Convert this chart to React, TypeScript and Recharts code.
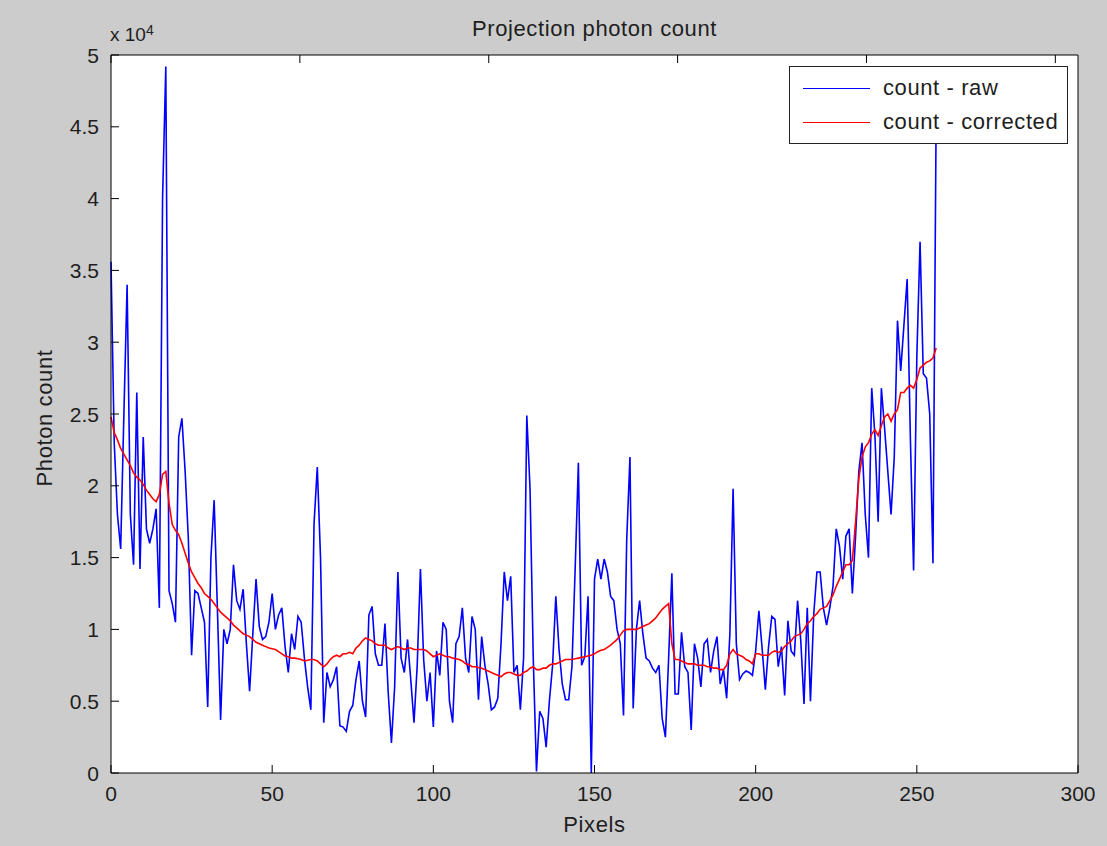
import { LineChart, Line, XAxis, YAxis, CartesianGrid, Legend } from "recharts";

// Detector pixel index 0..256
const pixels: number[] = Array.from({ length: 257 }, (_, i) => i);

const countRaw: number[] = [
  35600, 23000, 18000, 15600, 25000, 34000, 18000, 14500, 26500, 14200,
  23400, 17000, 16000, 17000, 18400, 11500, 40000, 49200, 12700, 11800,
  10500, 23400, 24700, 21000, 16300, 8200, 12700, 12500, 11500, 10500,
  4600, 15000, 19000, 11500, 3700, 10000, 9000, 10000, 14500, 12000,
  11400, 12800, 9000, 5700, 9700, 13500, 10200, 9300, 9500, 10500,
  12500, 10000, 11000, 11500, 8800, 7000, 9700, 8600, 10900, 10500,
  8000, 6000, 4400, 17400, 21300, 15000, 3500, 7000, 6000, 6500,
  7400, 3300, 3200, 2900, 4300, 4700, 6500, 7800, 5000, 3900,
  11000, 11600, 8300, 7500, 7500, 10400, 5600, 2100, 6000, 14000,
  8000, 7000, 9300, 6500, 3500, 7500, 14200, 7900, 5000, 7000,
  3200, 8500, 6800, 10500, 10000, 5000, 3500, 9000, 9500, 11500,
  8000, 7000, 10900, 10000, 5100, 9500, 7500, 6200, 4400, 4600,
  5200, 9000, 14000, 12000, 13700, 7000, 7500, 4400, 8000, 24900,
  19800, 8000, 100, 4300, 3800, 1800, 5000, 7500, 12300, 8600,
  6200, 5100, 5100, 7400, 14200, 21600, 7500, 8100, 12300, 0,
  13500, 14900, 13500, 14900, 14000, 12300, 12000, 10000, 9000, 4000,
  16300, 22000, 4500, 10000, 12000, 9700, 8000, 7800, 7300, 7000,
  7500, 3800, 2500, 8000, 13900, 5500, 5500, 9800, 7400, 7000,
  3000, 9000, 8000, 6000, 9000, 9300, 7000, 8500, 9500, 6200,
  7200, 5200, 9700, 19800, 9000, 6500, 6900, 7100, 7000, 6800,
  8500, 11300, 8700, 5800, 8800, 10900, 10700, 7400, 8800, 5400,
  10600, 8500, 8200, 12000, 9200, 4800, 11500, 5000, 11000, 14000,
  14000, 11500, 10300, 11500, 13000, 17000, 15800, 13500, 16500, 17000,
  12500, 16500, 21000, 23000, 18000, 15000, 26800, 23500, 17500, 26800,
  24000, 21000, 18000, 22000, 31500, 28000, 31200, 34400, 23300, 14100,
  29000, 37000, 27800, 27500, 25000, 14600, 46000,
];

const countCorrected: number[] = [
  24800, 23700, 23200, 22600, 22200, 21800, 21400, 20900, 20600, 20400,
  20100, 19700, 19400, 19100, 18900, 19400, 20800, 21000, 18800, 17300,
  16900, 16600, 16000, 15300, 14600, 14000, 13600, 13200, 12900, 12500,
  12300, 12100, 11800, 11500, 11200, 11000, 10800, 10600, 10300, 10100,
  9900, 9700, 9600, 9500, 9300, 9100, 9000, 8900, 8800, 8700,
  8650, 8600, 8450, 8300, 8150, 8100, 8000, 8000, 7950, 7900,
  7800, 7850, 7900, 7900, 7800, 7600, 7400, 7600, 7900, 8100,
  8200, 8100, 8300, 8300, 8400, 8300, 8700, 8900, 9200, 9400,
  9300, 9200, 9000, 8900, 8900, 8900, 8700, 8600, 8700, 8800,
  8700, 8600, 8700, 8700, 8600, 8600, 8600, 8600, 8500, 8300,
  8100, 8200, 8300, 8200, 8100, 8100, 8000, 7950, 7900, 7800,
  7600, 7550, 7400, 7400, 7350, 7300, 7200, 7100, 7000, 6900,
  6800, 6700, 6900, 7000, 7000, 6900, 6800, 6800, 7000, 7100,
  7300, 7400, 7200, 7200, 7300, 7300, 7500, 7600, 7600, 7700,
  7800, 7900, 7900, 7900, 7950, 8000, 8050, 8100, 8150, 8200,
  8300, 8450, 8550, 8600, 8750, 8900, 9100, 9300, 9600, 9900,
  10000, 10000, 10000, 10000, 10100, 10200, 10300, 10400, 10600, 10800,
  11100, 11400, 11600, 11800, 9000, 7900, 7900, 7800, 7700, 7600,
  7600, 7600, 7500, 7500, 7500, 7400, 7400, 7300, 7300, 7200,
  7200, 7500, 8300, 8600, 8300, 8200, 8100, 7900, 7800, 7600,
  8300, 8300, 8200, 8200, 8200, 8400, 8500, 8400, 8500, 8800,
  9000, 9200, 9500, 9600, 9700, 10000, 10400, 10600, 10900, 11100,
  11400, 11500, 11600, 12000, 12400, 13000, 13500, 14000, 14500, 14500,
  14800, 17500, 20500, 22000, 22700, 23000, 23600, 23900, 23500, 24200,
  24800, 25000, 24500, 25000, 25300, 26500, 26500, 26800, 27000, 26800,
  27400, 28200, 28400, 28600, 28700, 28900, 29600,
];

const seriesNames: string[] = ["count - raw", "count - corrected"];
const xTicks: number[] = [0, 50, 100, 150, 200, 250, 300];
const yTicks: number[] = [0, 5000, 10000, 15000, 20000, 25000, 30000, 35000, 40000, 45000, 50000];

const data = pixels.map((x, i) => ({
  x,
  raw: countRaw[i],
  corrected: countCorrected[i],
}));

const FONT = "'Liberation Sans', Arial, sans-serif";
const TEXT = "#1e1e1e";
const TICK_LEN = 8;
const LABEL_GAP = 12;

// MATLAB-style ticks: short marks pointing into the plot box
const BottomTick = ({ x, y, payload }: any) => (
  <g>
    <line x1={x} x2={x} y1={y - LABEL_GAP} y2={y - LABEL_GAP - TICK_LEN} stroke="#000" />
    <text x={x} y={y} dy="0.75em" textAnchor="middle" fill={TEXT} fontSize={21} fontFamily={FONT}>
      {payload.value}
    </text>
  </g>
);

const LeftTick = ({ x, y, payload }: any) => (
  <g>
    <line x1={x + LABEL_GAP} x2={x + LABEL_GAP + TICK_LEN} y1={y} y2={y} stroke="#000" />
    <text x={x} y={y} dy="0.36em" textAnchor="end" fill={TEXT} fontSize={21} fontFamily={FONT}>
      {String(payload.value / 10000)}
    </text>
  </g>
);

const TopTick = ({ x, y }: any) => (
  <line x1={x} x2={x} y1={y} y2={y + TICK_LEN} stroke="#000" />
);

const RightTick = ({ x, y }: any) => (
  <line x1={x} x2={x - TICK_LEN} y1={y} y2={y} stroke="#000" />
);

const renderLegend = ({ payload }: any) => {
  const items = [...(payload || [])].sort(
    (a: any, b: any) => seriesNames.indexOf(a.value) - seriesNames.indexOf(b.value)
  );
  return (
    <div
      style={{
        boxSizing: "border-box",
        width: 279,
        height: 78,
        border: "1px solid #222",
        background: "#fff",
        fontFamily: FONT,
        fontSize: 22,
        letterSpacing: 0.6,
        color: TEXT,
        paddingTop: 4,
      }}
    >
      {items.map((entry: any) => (
        <div key={entry.value} style={{ display: "flex", alignItems: "center", height: 34 }}>
          <span
            style={{
              display: "inline-block",
              width: 67,
              height: 0,
              borderTop: `1.6px solid ${entry.color}`,
              marginLeft: 13,
              marginRight: 13,
            }}
          />
          <span>{entry.value}</span>
        </div>
      ))}
    </div>
  );
};

export default function App() {
  return (
    <div
      style={{
        position: "absolute",
        left: 0,
        top: 0,
        width: 1107,
        height: 846,
        background: "#cccccc",
        fontFamily: FONT,
        color: TEXT,
      }}
    >
      <div style={{ position: "absolute", left: 111, width: 967, top: 16, textAlign: "center", fontSize: 22, letterSpacing: 0.6 }}>
        Projection photon count
      </div>
      <div style={{ position: "absolute", left: 110, top: 22, fontSize: 19 }}>
        x 10<sup style={{ fontSize: 14, verticalAlign: "6px" }}>4</sup>
      </div>
      <div style={{ position: "absolute", left: 111, width: 967, top: 812, textAlign: "center", fontSize: 22, letterSpacing: 0.6 }}>
        Pixels
      </div>
      <div
        style={{
          position: "absolute",
          left: 45,
          top: 418,
          fontSize: 22,
          letterSpacing: 0.6,
          whiteSpace: "nowrap",
          transform: "translate(-50%, -50%) rotate(-90deg)",
        }}
      >
        Photon count
      </div>

      <LineChart
        width={1107}
        height={846}
        data={data}
        margin={{ top: 54, right: 28, bottom: 33, left: 51 }}
        style={{ position: "absolute", left: 0, top: 0 }}
      >
        <CartesianGrid horizontal={false} vertical={false} fill="#ffffff" />
        <XAxis
          dataKey="x"
          type="number"
          domain={[0, 300]}
          ticks={xTicks}
          interval={0}
          height={40}
          tickSize={0}
          tickMargin={LABEL_GAP}
          axisLine={{ stroke: "#000" }}
          tickLine={false}
          tick={BottomTick}
        />
        <XAxis
          xAxisId="top"
          orientation="top"
          type="number"
          domain={[0, 300]}
          ticks={xTicks}
          interval={0}
          height={1}
          tickSize={0}
          tickMargin={0}
          axisLine={{ stroke: "#000" }}
          tickLine={false}
          tick={TopTick}
        />
        <YAxis
          type="number"
          domain={[0, 50000]}
          ticks={yTicks}
          interval={0}
          width={60}
          tickSize={0}
          tickMargin={LABEL_GAP}
          axisLine={{ stroke: "#000" }}
          tickLine={false}
          tick={LeftTick}
        />
        <YAxis
          yAxisId="right"
          orientation="right"
          type="number"
          domain={[0, 50000]}
          ticks={yTicks}
          interval={0}
          width={1}
          tickSize={0}
          tickMargin={0}
          axisLine={{ stroke: "#000" }}
          tickLine={false}
          tick={RightTick}
        />
        <Legend
          layout="vertical"
          align="center"
          verticalAlign="middle"
          wrapperStyle={{ top: 66, left: 789, width: 279, height: 78 }}
          content={renderLegend}
        />
        <Line
          type="linear"
          dataKey="raw"
          name={seriesNames[0]}
          stroke="#0000ff"
          strokeWidth={1.6}
          dot={false}
          isAnimationActive={false}
        />
        <Line
          type="linear"
          dataKey="corrected"
          name={seriesNames[1]}
          stroke="#ff0000"
          strokeWidth={1.6}
          dot={false}
          isAnimationActive={false}
        />
      </LineChart>
    </div>
  );
}
